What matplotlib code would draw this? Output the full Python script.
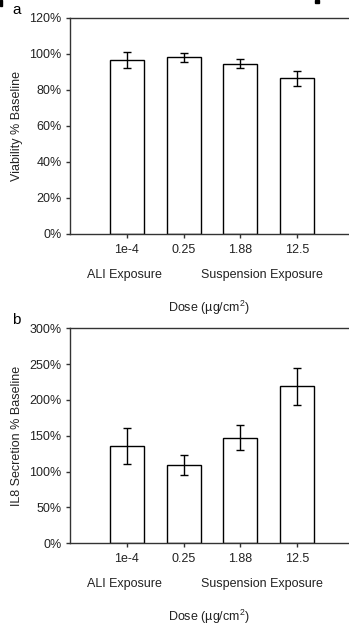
import matplotlib
matplotlib.use("Agg")
import matplotlib.pyplot as plt
import matplotlib.patches as mpatches
import numpy as np

plt.rcParams['font.family'] = ['Liberation Sans', 'DejaVu Sans']
plt.rcParams['mathtext.fontset'] = 'custom'
plt.rcParams['mathtext.rm'] = 'Liberation Sans'
plt.rcParams['mathtext.it'] = 'Liberation Sans'

doses = ["1e-4", "0.25", "1.88", "12.5"]
positions = [1, 2, 3, 4]

viability = [96.7, 98.2, 94.7, 86.4]
viability_err = [4.6, 2.5, 2.3, 4.3]

il8 = [135.8, 109.5, 147.5, 219.0]
il8_err = [25.0, 14.0, 17.5, 25.5]

W, H = 349, 629
fig = plt.figure(figsize=(W / 100, H / 100), dpi=100)

text_col = "#222222"
fs = 9


def panel(top, bottom, values, errs, ymax, step, ylabel, letter):
    ax = fig.add_axes([70 / W, 1 - bottom / H, (354 - 70) / W, (bottom - top) / H])
    ax.bar(positions, values, width=0.6, color="white", edgecolor="black",
           linewidth=1.0, zorder=2)
    ax.errorbar(positions, values, yerr=errs, fmt="none", ecolor="black",
                elinewidth=1.0, capsize=3, capthick=1.0, zorder=3)
    ax.set_xlim(0, 5)
    ax.set_ylim(0, ymax)
    yt = np.arange(0, ymax + 1, step)
    ax.set_yticks(yt)
    ax.set_yticklabels(["%d%%" % v for v in yt], fontsize=fs, color=text_col)
    ax.set_xticks(positions)
    ax.set_xticklabels(doses, fontsize=fs, color=text_col)
    ax.tick_params(direction="out", length=3, width=1, color="#333333")
    ax.tick_params(axis="x", pad=4)
    ax.tick_params(axis="y", pad=3)
    ax.spines["right"].set_visible(False)
    for s in ["left", "top", "bottom"]:
        ax.spines[s].set_color("#333333")
        ax.spines[s].set_linewidth(1.0)
    ax.set_ylabel(ylabel, fontsize=fs, color=text_col)
    ax.yaxis.set_label_coords(-47 / 284, 0.5)
    tr = ax.get_xaxis_transform()
    hh = bottom - top
    ax.text(0.96, -41 / hh, "ALI Exposure", transform=tr, ha="center", va="center",
            fontsize=fs, color=text_col)
    ax.text(3.38, -41 / hh, "Suspension Exposure", transform=tr, ha="center", va="center",
            fontsize=fs, color=text_col)
    ax.text(2.45, -74 / hh, "Dose (µg/cm$^2$)", transform=tr, ha="center", va="center",
            fontsize=fs, color=text_col)
    fig.text(12 / W, 1 - (top - 8) / H, letter, fontsize=11, color="black",
             ha="left", va="center")
    return ax


panel(18, 234, viability, viability_err, 120, 20, "Viability % Baseline", "a")
panel(328.3, 543.3, il8, il8_err, 300, 50, "IL8 Secretion % Baseline", "b")

fig.patches.append(mpatches.Rectangle((315 / W, 1 - 3 / H), 4 / W, 3 / H,
                                      transform=fig.transFigure, color="black"))
fig.patches.append(mpatches.Rectangle((0, 1 - 6 / H), 1.5 / W, 6 / H,
                                      transform=fig.transFigure, color="black"))

fig.savefig("out.png", dpi=100)
